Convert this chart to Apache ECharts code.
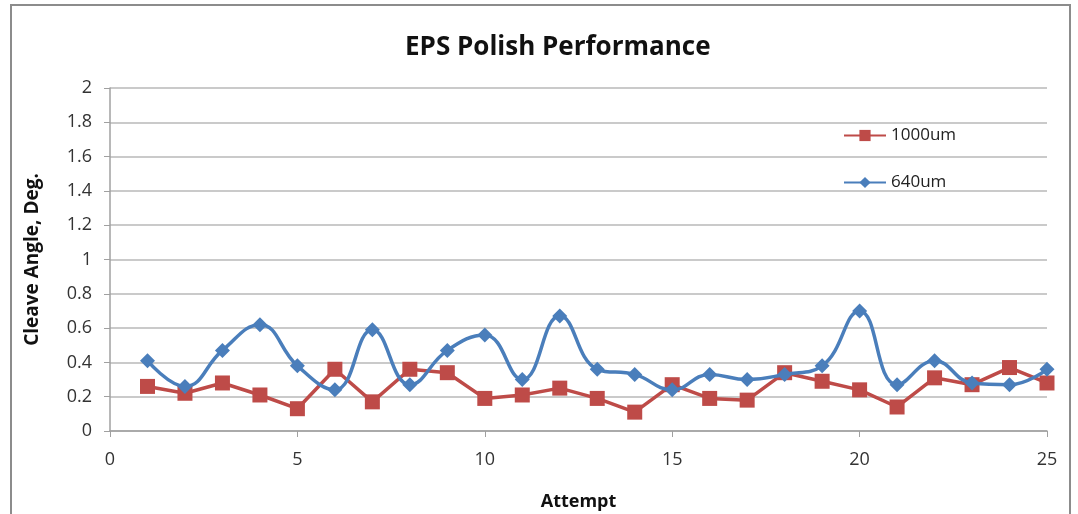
<!DOCTYPE html>
<html><head><meta charset="utf-8">
<script src="https://cdn.jsdelivr.net/npm/echarts@6/dist/echarts.min.js"></script>
<style>html,body{margin:0;padding:0;background:#fff}#c{width:1078px;height:514px}</style>
</head><body><div id="c"></div>
<script>
const attempts = [1,2,3,4,5,6,7,8,9,10,11,12,13,14,15,16,17,18,19,20,21,22,23,24,25];
const s1000 = [0.26,0.22,0.28,0.21,0.13,0.36,0.17,0.36,0.34,0.19,0.21,0.25,0.19,0.11,0.27,0.19,0.18,0.34,0.29,0.24,0.14,0.31,0.27,0.37,0.28];
const s640 = [0.41,0.26,0.47,0.62,0.38,0.24,0.59,0.27,0.47,0.56,0.30,0.67,0.36,0.33,0.24,0.33,0.30,0.33,0.38,0.70,0.27,0.41,0.28,0.27,0.36];
const FONT = 'Open Sans';
const chart = echarts.init(document.getElementById('c'), null, {renderer:'canvas'});
chart.setOption({
  animation:false,
  backgroundColor:'#fff',
  title:{text:'EPS Polish Performance', left:400, top:30,
    textStyle:{fontFamily:FONT, fontSize:26, fontWeight:'bold', color:'#111'}},
  graphic:[{type:'rect', shape:{x:11, y:5, width:1059, height:530},
    style:{fill:'none', stroke:'#8c8c8c', lineWidth:2}, silent:true}],
  legend:{orient:'vertical', left:838, top:122, itemGap:30, itemWidth:42, itemHeight:14,
    textStyle:{fontFamily:FONT, fontSize:17, color:'#222'},
    data:['1000um','640um']},
  grid:{left:110, right:31, top:88, bottom:83, outerBoundsMode:'none', containLabel:false},
  xAxis:{type:'value', min:0, max:25, interval:5, name:'Attempt', nameLocation:'middle', nameGap:62,
    nameTextStyle:{fontFamily:FONT, fontSize:18, fontWeight:'bold', color:'#111'},
    axisLine:{show:true, lineStyle:{color:'#a0a0a0', width:1.5}},
    axisTick:{show:true, length:6, lineStyle:{color:'#a0a0a0'}},
    axisLabel:{fontFamily:FONT, fontSize:18, color:'#333', margin:20},
    splitLine:{show:false}},
  yAxis:{type:'value', min:0, max:2, interval:0.2, name:'Cleave Angle, Deg.', nameLocation:'middle', nameGap:68,
    nameTextStyle:{fontFamily:FONT, fontSize:19, fontWeight:'bold', color:'#111'},
    axisLine:{show:true, lineStyle:{color:'#a0a0a0', width:1.5}},
    axisTick:{show:true, length:6, lineStyle:{color:'#a0a0a0'}},
    axisLabel:{fontFamily:FONT, fontSize:18, color:'#333', margin:18},
    splitLine:{show:true, lineStyle:{color:'#b8b8b8', width:1.5}}},
  series:[
    {name:'1000um', type:'line', data:attempts.map((a,i)=>[a,s1000[i]]),
      symbol:'rect', symbolSize:15, itemStyle:{color:'#BE4B48'},
      lineStyle:{color:'#BE4B48', width:3.5}, z:2},
    {name:'640um', type:'line', data:attempts.map((a,i)=>[a,s640[i]]), smooth:0.45,
      symbol:'diamond', symbolSize:15, itemStyle:{color:'#4A7EBB'},
      lineStyle:{color:'#4A7EBB', width:3.5}, z:3}
  ]
});
</script></body></html>
